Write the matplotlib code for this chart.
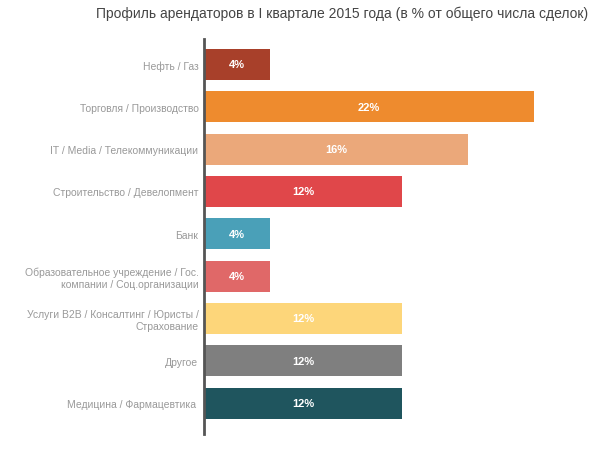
import numpy as np
import matplotlib.pyplot as plt

# categories, top to bottom
categories = [
    'Нефть / Газ',
    'Торговля / Производство',
    'IT / Media / Телекоммуникации',
    'Строительство / Девелопмент',
    'Банк',
    'Образовательное учреждение / Гос.\nкомпании / Соц.организации',
    'Услуги B2B / Консалтинг / Юристы /\nСтрахование',
    'Другое',
    'Медицина / Фармацевтика ',
]
# bar lengths as drawn in the picture, and the printed labels
lengths = [4, 20, 16, 12, 4, 4, 12, 12, 12]
value_labels = ['4%', '22%', '16%', '12%', '4%', '4%', '12%', '12%', '12%']
colors = ['#A8402A', '#EE8B2E', '#EBA87A', '#E0474A', '#4AA0B8',
          '#E06868', '#FDD67A', '#7F7F7F', '#1F555E']

plt.rcParams['font.family'] = ['Liberation Sans', 'DejaVu Sans']

fig = plt.figure(figsize=(6, 4.52), dpi=100)
ax = fig.add_axes([204 / 600, 1 - 435 / 452, 396 / 600, 395 / 452])

y = np.arange(len(categories))
bars = ax.barh(y, lengths, height=0.73, color=colors)

for b, lab in zip(bars, value_labels):
    ax.text(b.get_width() / 2, b.get_y() + b.get_height() / 2, lab,
            ha='center', va='center', color='white', fontsize=8,
            fontweight='bold')

ax.set_xlim(0, 24)
ax.set_ylim(8.73, -0.60)
ax.set_yticks(y)
ax.set_yticklabels(categories, fontsize=7.5, color='#999999')
ax.tick_params(axis='y', length=0, pad=4)
ax.set_xticks([])
for s in ['top', 'right', 'bottom']:
    ax.spines[s].set_visible(False)
ax.spines['left'].set_color('#555555')
ax.spines['left'].set_linewidth(2)

fig.text(342 / 600, 1 - 14 / 452,
         'Профиль арендаторов в I квартале 2015 года (в % от общего числа сделок)',
         ha='center', va='center', fontsize=10, color='#444444')

fig.savefig('out.png', dpi=100)
